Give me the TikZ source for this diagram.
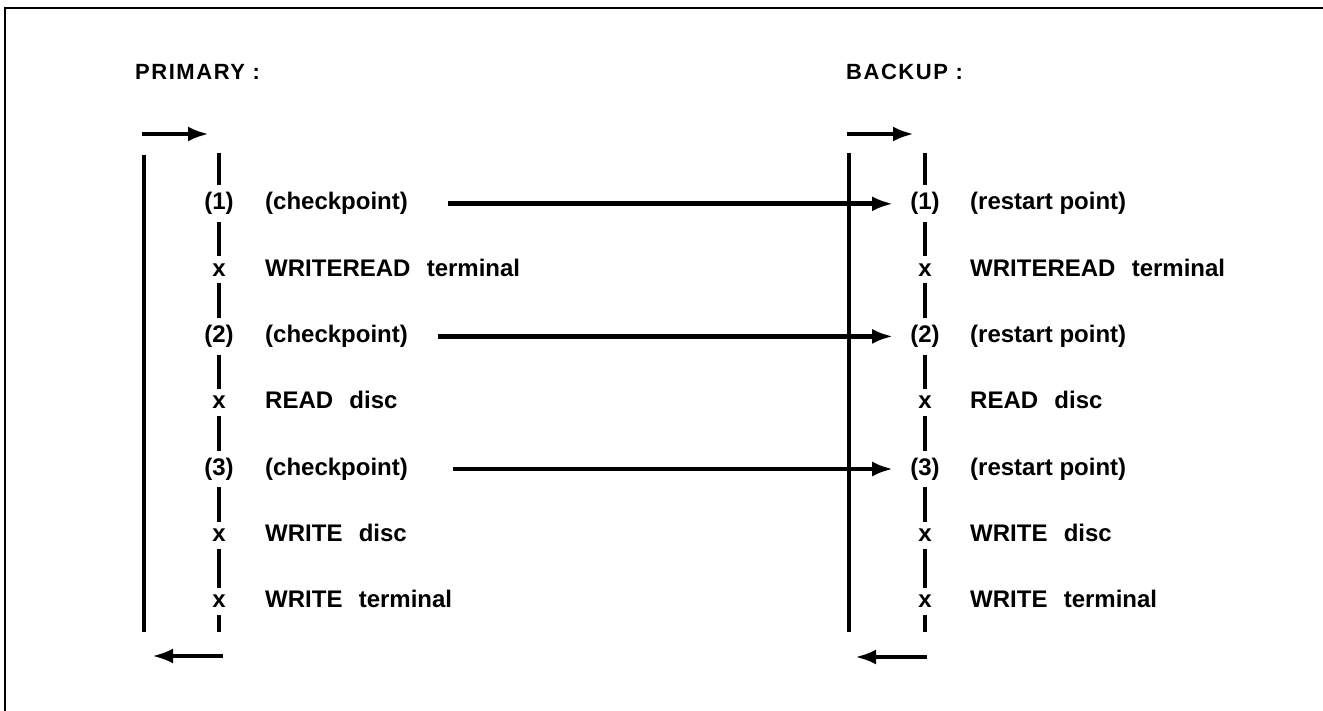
\documentclass[tikz,border=0pt]{standalone}
\usepackage{fontspec}
\setmainfont{Liberation Sans}
\usepackage{tikz}
\usetikzlibrary{arrows.meta, positioning}

\tikzset{
  bar/.style={line width=4.6pt},
  dbar/.style={line width=4.4pt},
  flow/.style={line width=4.6pt, -{Latex[length=21pt,width=15pt]}},
  tag/.style={inner sep=7pt, anchor=base, font=\fontsize{24pt}{28pt}\selectfont\bfseries},
  txt/.style={inner sep=0pt, anchor=base west, font=\fontsize{24pt}{28pt}\selectfont\bfseries},
  head/.style={inner sep=0pt, anchor=base west,
    font=\fontsize{22pt}{26pt}\selectfont\bfseries\addfontfeature{LetterSpace=7}}
}

\begin{document}
\begin{tikzpicture}[x=1pt, y=-1pt]
                \useasboundingbox (0,0) rectangle (1323,711);
                % 1. Frame
                \draw[line width=2pt] (1323,8) -- (5,8) -- (5,711);

                % 2. Headings
                \node[head] (hp) at (135,80) {PRIMARY :};
                \node[head] (hb) at (846,80) {BACKUP :};

                % 3. Rows of both processes
                \foreach \i/\m/\t in {1/(1)/(checkpoint), 2/x/WRITEREAD\hspace{.4em} terminal,
                    3/(2)/(checkpoint), 4/x/READ\hspace{.4em} disc, 5/(3)/(checkpoint),
                    6/x/WRITE\hspace{.4em} disc, 7/x/WRITE\hspace{.4em} terminal} {
                    \pgfmathsetmacro{\y}{210+66.3*(\i-1)}
                    \node[tag] (p\i) at (219,\y) {\m};
                    \node[txt] (pt\i) at (265,\y) {\t};
                }
                \foreach \i/\m/\t in {1/(1)/(restart point), 2/x/WRITEREAD\hspace{.4em} terminal,
                    3/(2)/(restart point), 4/x/READ\hspace{.4em} disc, 5/(3)/(restart point),
                    6/x/WRITE\hspace{.4em} disc, 7/x/WRITE\hspace{.4em} terminal} {
                    \pgfmathsetmacro{\y}{210+66.3*(\i-1)}
                    \node[tag] (b\i) at (925,\y) {\m};
                    \node[txt] (bt\i) at (970,\y) {\t};
                }

                % 4. Dashed columns
                \coordinate (ptop) at (219,153);
                \coordinate (pbot) at (219,632);
                \coordinate (btop) at (925,153);
                \coordinate (bbot) at (925,632);
                \draw[dbar] (ptop) -- (p1);
                \draw[dbar] (p7) -- (pbot);
                \draw[dbar] (btop) -- (b1);
                \draw[dbar] (b7) -- (bbot);
                \foreach \i/\j in {1/2, 2/3, 3/4, 4/5, 5/6, 6/7} {
                    \draw[dbar] (p\i) -- (p\j);
                    \draw[dbar] (b\i) -- (b\j);
                }

                % 5. Solid bars
                \coordinate (pa) at (144,155);
                \coordinate (pb) at (144,632);
                \coordinate (ba) at (849,153);
                \coordinate (bb) at (849,632);
                \draw[bar] (pa) -- (pb);
                \draw[bar] (ba) -- (bb);

                % 6. Entry and exit arrows
                \coordinate (pin1) at (142,134);
                \coordinate (pin2) at (209,134);
                \coordinate (pout1) at (223,656);
                \coordinate (pout2) at (152,656);
                \coordinate (bin1) at (847,134);
                \coordinate (bin2) at (914,134);
                \coordinate (bout1) at (927,657);
                \coordinate (bout2) at (855,657);
                \draw[flow] (pin1) -- (pin2);
                \draw[flow] (pout1) -- (pout2);
                \draw[flow] (bin1) -- (bin2);
                \draw[flow] (bout1) -- (bout2);

                % 7. Checkpoint to restart point
                \foreach \i/\g in {1/40, 3/30, 5/45} {
                    \draw[flow] ([xshift=\g pt]pt\i.east) -- ([xshift=-10pt]b\i.west);
                }
            \end{tikzpicture}
\end{document}
